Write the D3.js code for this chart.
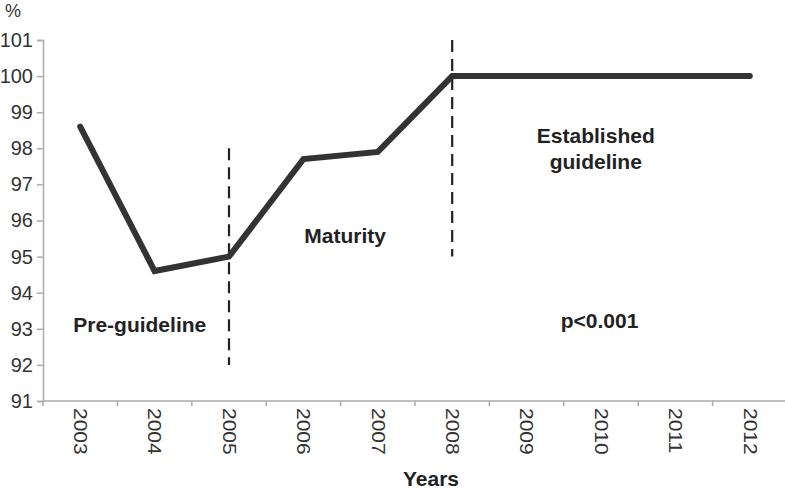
<!DOCTYPE html>
<html lang="en">
<head>
<meta charset="UTF-8">
<title>Guideline adherence</title>
<script src="https://d3js.org/d3.v7.min.js"></script>
<style>
  body { margin: 0; background: #fff; }
  text { font-family: "Liberation Sans", Arial, sans-serif; }
  .lbl { font-weight: bold; font-size: 21px; fill: #222; }
</style>
</head>
<body>
<svg width="785" height="489"></svg>
<script>
const years = ["2003","2004","2005","2006","2007","2008","2009","2010","2011","2012"];
const percent = [98.6, 94.6, 95.0, 97.7, 97.9, 100, 100, 100, 100, 100];
const yTicks = [91,92,93,94,95,96,97,98,99,100,101];
// vertical dashed markers: year, from, to
const markers = [["2005", 92, 98], ["2008", 95, 101]];
// annotation positions in (fractional year, value) units
const notes = [
  {year: 2003.8, yv: 92.91, lines: ["Pre-guideline"]},
  {year: 2006.56, yv: 95.38, lines: ["Maturity"]},
  {year: 2009.93, yv: 98.15, lines: ["Established", "guideline"]},
  {year: 2009.98, yv: 93.02, lines: ["p<0.001"]}
];

const svg = d3.select("svg");
const x = d3.scaleBand().domain(years).range([43, 787]);
const y = d3.scaleLinear().domain([91, 101]).range([401, 40]);
const cx = d => x(d) + x.bandwidth() / 2;
const xNote = v => {
  const base = Math.floor(v), frac = v - base;
  return cx(String(base)) + frac * x.bandwidth();
};

// y axis
const ya = svg.append("g").attr("transform", "translate(43,0)")
  .call(d3.axisLeft(y).tickValues(yTicks).tickSize(6).tickPadding(4).tickFormat(d3.format("d")));
ya.select(".domain").attr("stroke", "#aaa").attr("stroke-width", 1.5);
ya.selectAll(".tick line").attr("stroke", "#aaa").attr("stroke-width", 1.5);
ya.selectAll("text").attr("font-size", 20).attr("fill", "#333")
  .attr("font-family", "'Liberation Sans', Arial, sans-serif");

// x axis with ticks at band boundaries
const xa = svg.append("g").attr("transform", "translate(0,401)");
xa.append("line").attr("x1", 43).attr("x2", 785).attr("y1", 0).attr("y2", 0)
  .attr("stroke", "#aaa").attr("stroke-width", 1.5);
xa.selectAll("line.t").data(years.concat(["end"])).enter().append("line")
  .attr("class", "t")
  .attr("x1", (d, i) => i < years.length ? x(d) : x(years[years.length - 1]) + x.bandwidth())
  .attr("x2", (d, i) => i < years.length ? x(d) : x(years[years.length - 1]) + x.bandwidth())
  .attr("y1", 0).attr("y2", 5).attr("stroke", "#aaa").attr("stroke-width", 1.5);
xa.selectAll("text").data(years).enter().append("text")
  .attr("transform", d => "translate(" + cx(d) + ",7) rotate(90) scale(1,0.84)")
  .attr("dy", "0.35em")
  .attr("font-size", 21).attr("fill", "#333")
  .text(d => d);

svg.append("text").attr("x", 431).attr("y", 486).attr("text-anchor", "middle")
  .attr("font-size", 21).attr("font-weight", "bold").attr("fill", "#222")
  .text("Years");
svg.append("text").attr("x", 5).attr("y", 17).attr("font-size", 18).attr("fill", "#333").text("%");

// dashed markers
svg.selectAll("line.m").data(markers).enter().append("line")
  .attr("class", "m")
  .attr("x1", d => cx(d[0])).attr("x2", d => cx(d[0]))
  .attr("y1", d => y(d[2])).attr("y2", d => y(d[1]))
  .attr("stroke", "#222").attr("stroke-width", 2.2).attr("stroke-dasharray", "12,7");

// main line
svg.append("path").datum(percent)
  .attr("fill", "none").attr("stroke", "#333").attr("stroke-width", 6)
  .attr("stroke-linejoin", "miter").attr("stroke-linecap", "round")
  .attr("d", d3.line().x((d, i) => cx(years[i])).y(d => y(d)));

// annotations
notes.forEach(n => {
  const t = svg.append("text").attr("class", "lbl").attr("text-anchor", "middle")
    .attr("x", xNote(n.year)).attr("y", y(n.yv));
  n.lines.forEach((s, i) => t.append("tspan").attr("x", xNote(n.year)).attr("dy", i ? 26 : 0).text(s));
});
</script>
</body>
</html>
